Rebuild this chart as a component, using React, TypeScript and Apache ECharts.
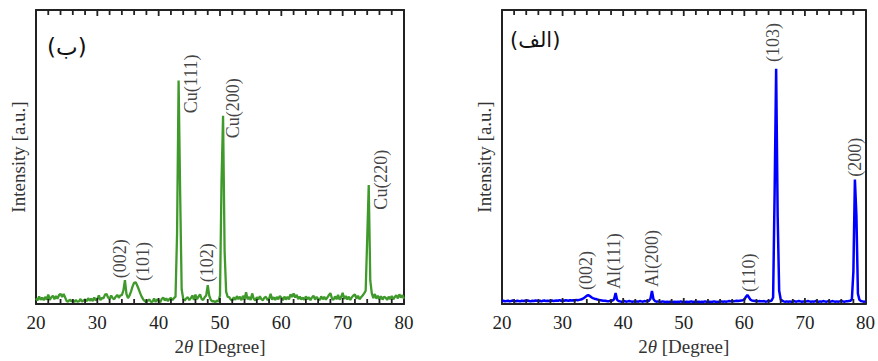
import React, { useEffect, useRef } from "react";
import * as echarts from "echarts";

// 2θ sampling grid: start 20°, one sample every 0.25° (16 samples = 4° per row)
const twoThetaStart = 20;
const twoThetaStep = 0.25;

// Left panel (ب) — green pattern, intensity in arbitrary units (0..100)
const leftIntensity = [
  1.9, 1.2, 2.6, 1.4, 2.2, 1.3, 2.4, 1.5, 3.2, 1.4, 2.3, 2.8, 1.6, 2.7, 1.8, 3.0,
  3.5, 2.4, 3.4, 2.2, 1.0, 0.8, 1.5, 0.9, 1.3, 0.7, 1.4, 0.8, 0.9, 1.7, 0.8, 1.2,
  1.5, 0.9, 2.0, 1.1, 1.8, 1.0, 2.2, 1.2, 1.7, 2.9, 1.3, 2.1, 1.9, 3.2, 3.4, 2.2,
  1.7, 2.9, 2.0, 1.6, 2.5, 3.1, 2.1, 2.9, 3.0, 4.6, 8.1, 3.4, 2.0, 2.9, 4.3, 6.0,
  7.2, 7.4, 6.3, 5.0, 3.6, 2.4, 1.5, 1.0, 0.6, 1.2, 1.5, 0.7, 0.8, 1.9, 0.7, 1.6,
  1.1, 0.6, 1.7, 2.2, 1.2, 1.9, 1.0, 1.7, 2.1, 1.3, 2.0, 2.5, 24, 76, 38, 5.0,
  1.8, 1.2, 1.9, 2.3, 1.3, 2.0, 2.9, 1.4, 3.2, 1.6, 2.5, 3.3, 1.7, 1.4, 2.3, 2.9,
  6.4, 2.8, 1.4, 0.9, 1.0, 0.6, 1.2, 0.8, 3.0, 42, 64, 18, 4.2, 2.4, 2.3, 1.5,
  1.2, 2.3, 1.4, 2.7, 1.6, 2.5, 1.3, 2.8, 1.5, 4.0, 1.6, 2.4, 1.4, 3.6, 1.8, 1.2,
  2.3, 1.5, 2.6, 1.6, 1.3, 2.2, 2.4, 1.4, 1.7, 3.5, 1.5, 2.3, 1.4, 2.4, 1.6, 2.7,
  2.2, 1.3, 2.5, 1.5, 2.4, 1.6, 3.3, 2.4, 3.6, 2.2, 3.1, 1.7, 2.5, 1.5, 2.2, 1.4,
  2.6, 1.6, 2.3, 1.3, 2.2, 2.8, 1.5, 2.4, 1.7, 1.3, 2.6, 1.6, 2.4, 1.5, 2.2, 3.0,
  3.7, 1.9, 1.4, 2.6, 1.6, 3.1, 1.5, 2.4, 3.8, 1.7, 2.7, 1.5, 2.5, 1.4, 2.3, 2.9,
  3.3, 1.8, 2.8, 1.6, 2.3, 2.9, 3.6, 4.5, 22, 40.5, 8, 3.6, 2.0, 3.4, 1.8, 2.8,
  1.6, 2.6, 1.5, 2.4, 2.2, 1.4, 2.5, 1.7, 2.7, 1.6, 2.4, 3.0, 1.9, 3.3, 2.2, 3.0,
  1.8,
];

// Right panel (الف) — blue pattern
const rightIntensity = [
  1.0, 1.1, 0.9, 1.0, 1.1, 0.9, 1.0, 1.2, 1.0, 0.9, 1.1, 1.0, 0.9, 1.1, 1.0, 1.1,
  1.0, 1.2, 1.0, 0.9, 1.1, 1.0, 1.2, 1.1, 1.0, 1.1, 0.9, 1.1, 1.2, 1.0, 1.1, 1.0,
  1.1, 1.2, 1.0, 1.1, 1.2, 1.1, 1.3, 1.1, 1.2, 1.1, 1.3, 1.2, 1.1, 1.3, 1.2, 1.3,
  1.2, 1.4, 1.3, 1.4, 1.5, 1.7, 2.0, 2.4, 2.8, 3.0, 2.7, 2.3, 2.0, 1.8, 1.7, 1.5,
  1.4, 1.3, 1.2, 1.1, 1.1, 1.0, 0.9, 1.0, 1.1, 1.2, 1.6, 3.7, 1.4, 1.0, 0.9, 0.8,
  0.9, 1.0, 0.8, 0.9, 1.0, 0.9, 0.8, 0.9, 0.8, 0.9, 0.8, 1.0, 0.9, 0.8, 1.0, 0.9,
  0.9, 1.1, 1.8, 4.4, 1.6, 1.0, 0.8, 0.9, 0.8, 0.7, 0.9, 0.8, 0.7, 0.8, 0.7, 0.8,
  0.8, 0.7, 0.8, 0.7, 0.8, 0.7, 0.9, 0.7, 0.8, 0.7, 0.8, 0.7, 0.8, 0.9, 0.7, 0.8,
  0.7, 0.8, 0.8, 0.7, 0.8, 0.7, 0.9, 0.8, 0.7, 0.8, 0.7, 0.8, 0.9, 0.8, 0.7, 0.8,
  0.8, 0.9, 0.8, 0.9, 0.8, 0.9, 1.0, 0.9, 1.0, 0.9, 1.0, 1.1, 1.0, 1.1, 1.2, 1.3,
  1.5, 2.4, 3.1, 2.3, 1.5, 1.2, 1.1, 1.0, 1.0, 0.9, 1.0, 0.9, 0.9, 1.0, 0.8, 0.9,
  0.9, 1.0, 1.2, 2.2, 38, 80, 30, 4.5, 1.6, 1.1, 0.9, 0.8, 0.9, 0.8, 0.9, 0.8,
  0.9, 1.0, 0.8, 0.9, 1.0, 0.9, 0.8, 0.9, 0.8, 0.9, 1.0, 0.9, 0.8, 0.9, 0.8, 1.0,
  0.9, 0.8, 0.9, 0.8, 1.0, 0.9, 0.8, 0.9, 0.9, 0.8, 1.0, 0.9, 0.8, 0.9, 0.8, 0.9,
  1.0, 0.9, 0.8, 0.9, 0.9, 1.0, 1.1, 1.6, 11, 42.3, 30, 3.5, 1.4, 1.0, 0.9, 0.8,
  0.9,
];

// Peak labels: [text, 2θ, intensity at the foot of the label]
const leftPeakLabels: [string, number, number][] = [
  ["(002)", 33.7, 8.8],
  ["(101)", 37.45, 7.8],
  ["Cu(111)", 45.3, 64.9],
  ["(102)", 47.9, 7.4],
  ["Cu(200)", 52.1, 56.4],
  ["Cu(220)", 76.3, 32.1],
];
const rightPeakLabels: [string, number, number][] = [
  ["(002)", 33.9, 4.8],
  ["Al(111)", 38.5, 5.1],
  ["Al(200)", 44.7, 5.8],
  ["(110)", 60.8, 4.1],
  ["(103)", 64.8, 82.3],
  ["(200)", 78.3, 43.3],
];

// Frame tick marks along the 2θ axis (top and bottom, pointing inward)
const frameTicks = [22, 24, 26, 28, 30, 32, 34, 36, 38, 40, 42, 44, 46, 48, 50, 52, 54, 56, 58, 60, 62, 64, 66, 68, 70, 72, 74, 76, 78];

const xTicks = { min: 20, max: 80, interval: 10 };
const yRange = { min: 0, max: 100 };
const xTitle = "2{i|θ} [Degree]";
const yTitle = "Intensity [a.u.]";
const leftPanelTag = "(ب)";
const rightPanelTag = "(الف)";

const SERIF = "Liberation Serif";
const INK = "#222";

function toPairs(vals: number[]) {
  return vals.map((v, i) => [twoThetaStart + i * twoThetaStep, v]);
}

export default function App() {
  const ref = useRef<HTMLDivElement>(null);
  useEffect(() => {
    if (!ref.current) return;
    const chart = echarts.init(ref.current, null, { renderer: "svg" });

    const gridBoxes = [
      { left: 36, top: 10, width: 368, height: 295 },
      { left: 502, top: 10, width: 367, height: 294 },
    ];

    const xAxes: any[] = [];
    [0, 1].forEach((gi) => {
      xAxes.push({
        type: "value",
        gridIndex: gi,
        position: "bottom",
        min: xTicks.min,
        max: xTicks.max,
        interval: xTicks.interval,
        axisLine: { show: true, onZero: false, lineStyle: { color: INK, width: 2 } },
        axisTick: { show: false },
        splitLine: { show: false },
        axisLabel: { fontFamily: SERIF, fontSize: 19, color: INK, margin: 9 },
        name: xTitle,
        nameLocation: "middle",
        nameGap: 33,
        nameTextStyle: {
          fontFamily: SERIF,
          fontSize: 19,
          color: "#333",
          rich: { i: { fontFamily: SERIF, fontSize: 19, fontStyle: "italic", color: "#333" } },
        },
      });
      xAxes.push({
        type: "value",
        gridIndex: gi,
        position: "top",
        min: xTicks.min,
        max: xTicks.max,
        interval: xTicks.interval,
        axisLine: { show: true, onZero: false, lineStyle: { color: INK, width: 2 } },
        axisTick: { show: false },
        splitLine: { show: false },
        axisLabel: { show: false },
      });
    });

    const yAxes: any[] = [];
    [0, 1].forEach((gi) => {
      yAxes.push({
        type: "value",
        gridIndex: gi,
        position: "left",
        min: yRange.min,
        max: yRange.max,
        axisLine: { show: true, onZero: false, lineStyle: { color: INK, width: 2 } },
        axisTick: { show: false },
        axisLabel: { show: false },
        splitLine: { show: false },
        name: yTitle,
        nameLocation: "middle",
        nameGap: 8,
        nameRotate: 90,
        nameTextStyle: { fontFamily: SERIF, fontSize: 19, color: "#333" },
      });
      yAxes.push({
        type: "value",
        gridIndex: gi,
        position: "right",
        min: yRange.min,
        max: yRange.max,
        axisLine: { show: true, onZero: false, lineStyle: { color: INK, width: 2 } },
        axisTick: { show: false },
        axisLabel: { show: false },
        splitLine: { show: false },
      });
    });

    const labelSeries = (labels: [string, number, number][], xi: number, yi: number) => ({
      type: "scatter",
      xAxisIndex: xi,
      yAxisIndex: yi,
      symbolSize: 1,
      itemStyle: { color: "rgba(0,0,0,0)" },
      silent: true,
      z: 5,
      data: labels.map(([t, x, y]) => ({ name: t, value: [x, y] })),
      label: {
        show: true,
        formatter: (p: any) => p.name,
        position: "inside",
        rotate: 90,
        align: "left",
        verticalAlign: "middle",
        fontFamily: SERIF,
        fontSize: 18,
        color: "#111",
      },
    });

    // inward frame ticks drawn as a custom series
    const tickSeries = (xi: number, yi: number) => ({
      type: "custom",
      xAxisIndex: xi,
      yAxisIndex: yi,
      silent: true,
      clip: false,
      z: 10,
      encode: { x: 0, y: 1 },
      data: frameTicks.map((t) => [t, t % 10 === 0 ? 1 : 0]),
      renderItem: (_params: any, api: any) => {
        const x = api.value(0);
        const len = api.value(1) ? 6 : 5;
        const pb = api.coord([x, yRange.min]);
        const pt = api.coord([x, yRange.max]);
        const style = { stroke: INK, lineWidth: 1.8 };
        return {
          type: "group",
          children: [
            { type: "line", shape: { x1: pb[0], y1: pb[1], x2: pb[0], y2: pb[1] - len }, style },
            { type: "line", shape: { x1: pt[0], y1: pt[1], x2: pt[0], y2: pt[1] + len }, style },
          ],
        };
      },
    });

    chart.setOption({
      animation: false,
      backgroundColor: "#fff",
      grid: gridBoxes,
      xAxis: xAxes,
      yAxis: yAxes,
      series: [
        tickSeries(0, 0),
        tickSeries(2, 2),
        {
          type: "line",
          xAxisIndex: 0,
          yAxisIndex: 0,
          data: toPairs(leftIntensity),
          showSymbol: false,
          lineStyle: { color: "#3f9a2b", width: 2.3 },
          z: 3,
        },
        {
          type: "line",
          xAxisIndex: 2,
          yAxisIndex: 2,
          data: toPairs(rightIntensity),
          showSymbol: false,
          lineStyle: { color: "#0000ff", width: 2.5 },
          z: 3,
        },
        labelSeries(leftPeakLabels, 0, 0),
        labelSeries(rightPeakLabels, 2, 2),
      ],
      graphic: [
        { type: "text", left: 47, top: 35, style: { text: leftPanelTag, font: '23px "DejaVu Sans"', fill: "#111" } },
        { type: "text", left: 510, top: 29, style: { text: rightPanelTag, font: '21px "DejaVu Sans"', fill: "#111" } },
      ],
    });
    return () => chart.dispose();
  }, []);
  return <div ref={ref} style={{ position: "fixed", left: 0, top: 0, width: 878, height: 361 }} />;
}
